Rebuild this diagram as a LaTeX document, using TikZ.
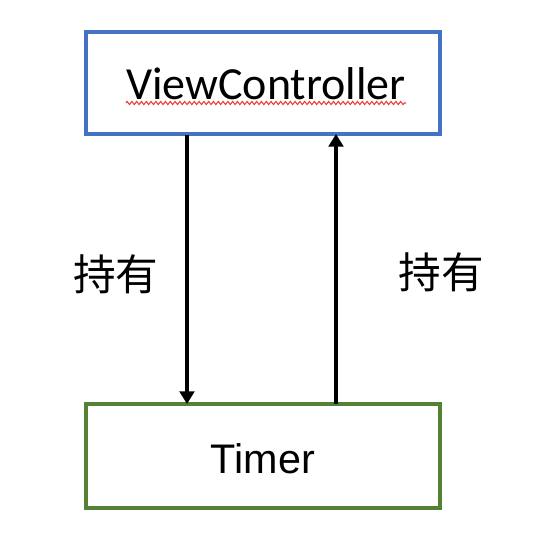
\documentclass[tikz,border=0pt]{standalone}
\usepackage{fontspec}
\newfontfamily\cjk{Noto Sans CJK SC}
\newfontfamily\calib{Carlito}
\newfontfamily\arialf{Liberation Sans}
\usetikzlibrary{arrows.meta,decorations.pathmorphing}
\definecolor{boxblue}{HTML}{4472C4}
\definecolor{boxgreen}{HTML}{548235}
\definecolor{spellred}{HTML}{F04030}
\begin{document}
\begin{tikzpicture}[x=0.75pt,y=-0.75pt,
  box/.style={draw,line width=2.3pt,minimum width=354*0.75pt,minimum height=102*0.75pt,inner sep=0pt,fill=white},
  link/.style={draw=black,line width=3pt,arrows={-Triangle[length=9.5pt,width=11pt]}},
  lbl/.style={font=\cjk\fontsize{32}{38}\selectfont,inner sep=0pt}]
\useasboundingbox (0,0) rectangle (540,558);
\node[box,draw=boxblue] (vc) at (263,83) {};
\node[box,draw=boxgreen,minimum height=104*0.75pt] (tm) at (263,456) {};
\node[font=\calib\fontsize{34.5}{40}\selectfont,inner sep=0pt,anchor=base] (vct) at (266,99) {ViewController};
\node[font=\arialf\fontsize{31}{36}\selectfont,inner sep=0pt,anchor=base] (tmt) at (263,473) {Timer};
\draw[spellred,line width=0.8pt,decorate,decoration={zigzag,amplitude=1.2pt,segment length=3.6pt}]
  ([yshift=-3pt]vct.base west) -- ([yshift=-3pt]vct.base east);
\coordinate (a1s) at (187,135);
\coordinate (a1e) at (187,404);
\coordinate (a2s) at (336,404);
\coordinate (a2e) at (336,134);
\path[link] (a1s) -- (a1e);
\path[link] (a2s) -- (a2e);
\node[lbl] (l1) at (116,274) {持有};
\node[lbl] (l2) at (441,272) {持有};
\end{tikzpicture}
\end{document}
